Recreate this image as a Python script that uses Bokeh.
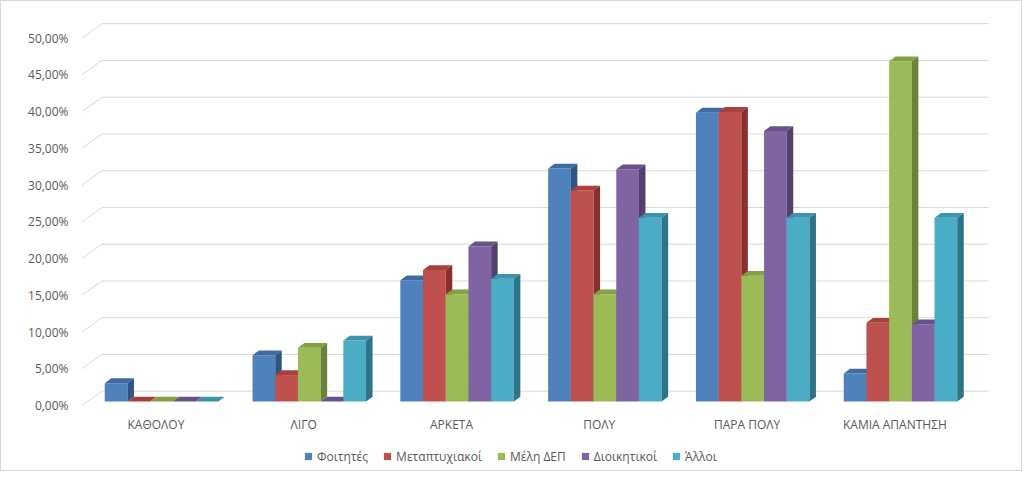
from bokeh.plotting import figure
from bokeh.models import (Range1d, FixedTicker, CustomJSTickFormatter, Legend,
                          LegendItem)
from bokeh.embed import file_html
from bokeh.resources import INLINE

# ---------------- data ----------------
categories = ["ΚΑΘΟΛΟΥ", "ΛΙΓΟ", "ΑΡΚΕΤΑ", "ΠΟΛΥ", "ΠΑΡΑ ΠΟΛΥ", "ΚΑΜΙΑ ΑΠΑΝΤΗΣΗ"]
series_names = ["Φοιτητές", "Μεταπτυχιακοί", "Μέλη ΔΕΠ", "Διοικητικοί", "Άλλοι"]
foitites = [2.5, 6.3, 16.5, 31.7, 39.3, 3.8]
metaptyxiakoi = [0.0, 3.6, 17.9, 28.7, 39.4, 10.7]
meli_dep = [0.0, 7.3, 14.6, 14.6, 17.1, 46.3]
dioikitikoi = [0.0, 0.0, 21.1, 31.6, 36.8, 10.5]
alloi = [0.0, 8.3, 16.7, 25.0, 25.0, 25.0]
y_ticks = [0, 5, 10, 15, 20, 25, 30, 35, 40, 45, 50]

series_values = [foitites, metaptyxiakoi, meli_dep, dioikitikoi, alloi]

# ---------------- styles ----------------
front_colors = ["#4F81BD", "#C0504D", "#9BBB59", "#8064A2", "#4BACC6"]
top_colors = ["#3E6BA3", "#A8403D", "#83A049", "#6A5189", "#3C93AB"]
side_colors = ["#2F5583", "#8A2F2D", "#6A823A", "#544070", "#2E7488"]
grid_color = "#D9D9D9"
text_color = "#595959"
FONT = "Open Sans"

# pixel scale of the chart (px per category slot, px per percent)
PX_X = 147.8
PX_Y = 7.35
# 3D offsets (in px) converted to data units
wall_dx, wall_dy = 20.0 / PX_X, 14.3 / PX_Y      # floor front -> back wall
plane_dx, plane_dy = 5.6 / PX_X, 4.0 / PX_Y      # floor front -> bar front plane
depth_dx, depth_dy = 6.5 / PX_X, 4.8 / PX_Y      # bar depth
group_frac = 0.768
bar_w = group_frac / len(series_names)
gap_half = (1 - group_frac) / 2
xf = -plane_dx                                    # floor front-left x
NAN = float("nan")

p = figure(width=1022, height=471,
           x_range=Range1d(-0.0751, -0.0751 + 919 / PX_X),
           y_range=Range1d(-67 / PX_Y, 390 / PX_Y),
           output_backend="svg", toolbar_location=None,
           min_border_left=75, min_border_right=28,
           min_border_top=14, min_border_bottom=0,
           styles={"border": "1px solid #D9D9D9"})
p.outline_line_color = None
p.xgrid.visible = False
p.ygrid.visible = False
p.background_fill_color = "white"
p.border_fill_color = "white"

# ---- back wall gridlines and side-wall slants ----
n_cat = len(categories)
wall_x0 = xf + wall_dx
wall_x1 = n_cat + (wall_dx - plane_dx)
p.segment(x0=[wall_x0] * len(y_ticks), y0=[t + wall_dy for t in y_ticks],
          x1=[wall_x1] * len(y_ticks), y1=[t + wall_dy for t in y_ticks],
          line_color=grid_color, line_width=1)
p.segment(x0=[xf] * len(y_ticks), y0=y_ticks,
          x1=[wall_x0] * len(y_ticks), y1=[t + wall_dy for t in y_ticks],
          line_color=grid_color, line_width=1)

# ---- 3D bars ----
legend_items = []
for s, (name, vals) in enumerate(zip(series_names, series_values)):
    lefts = [i + gap_half + s * bar_w for i in range(n_cat)]
    rights = [l + bar_w for l in lefts]
    bottoms = [plane_dy] * n_cat
    tops = [plane_dy + v for v in vals]
    p.quad(left=lefts, right=rights, bottom=bottoms, top=tops,
           fill_color=front_colors[s], line_color=None)
    top_xs = [[l, r, r + depth_dx, l + depth_dx] for l, r in zip(lefts, rights)]
    top_ys = [[t, t, t + depth_dy, t + depth_dy] for t in tops]
    p.patches(xs=top_xs, ys=top_ys, fill_color=top_colors[s], line_color=None)
    side_xs = [[r, r + depth_dx, r + depth_dx, r] for r in rights]
    side_ys = [[b, b + depth_dy, t + depth_dy, t] for b, t in zip(bottoms, tops)]
    p.patches(xs=side_xs, ys=side_ys, fill_color=side_colors[s], line_color=None)
    # legend swatch (square marker, not drawn in the plot area)
    key = p.scatter(x=[NAN], y=[NAN], marker="square", size=7,
                    fill_color=front_colors[s], line_color=None)
    legend_items.append(LegendItem(label=name, renderers=[key]))

# ---- axes ----
p.yaxis.ticker = FixedTicker(ticks=y_ticks)
p.yaxis.formatter = CustomJSTickFormatter(
    code="return tick.toFixed(2).replace('.', ',') + '%';")
p.xaxis.ticker = FixedTicker(ticks=[xf + i + 0.5 for i in range(n_cat)])
p.xaxis.formatter = CustomJSTickFormatter(
    args=dict(names=categories, off=xf),
    code="const i = Math.round(tick - off - 0.5); return names[i] ?? '';")
p.xaxis.fixed_location = -3 / PX_Y
for ax in (p.xaxis[0], p.yaxis[0]):
    ax.axis_line_color = None
    ax.major_tick_line_color = None
    ax.minor_tick_line_color = None
    ax.major_tick_out = 0
    ax.major_tick_in = 0
    ax.major_label_text_font = FONT
    ax.major_label_text_font_size = "12px"
    ax.major_label_text_color = text_color
p.xaxis.major_label_standoff = 7
p.yaxis.major_label_standoff = 8

legend = Legend(items=legend_items, orientation="horizontal",
                location=(223, 7),
                glyph_width=18, glyph_height=18, label_standoff=0, spacing=10,
                padding=0, margin=0, border_line_color=None,
                background_fill_alpha=0,
                label_text_font=FONT, label_text_font_size="12px",
                label_text_color=text_color, label_height=18)
p.add_layout(legend)

open("out.html", "w").write(file_html(p, INLINE))
